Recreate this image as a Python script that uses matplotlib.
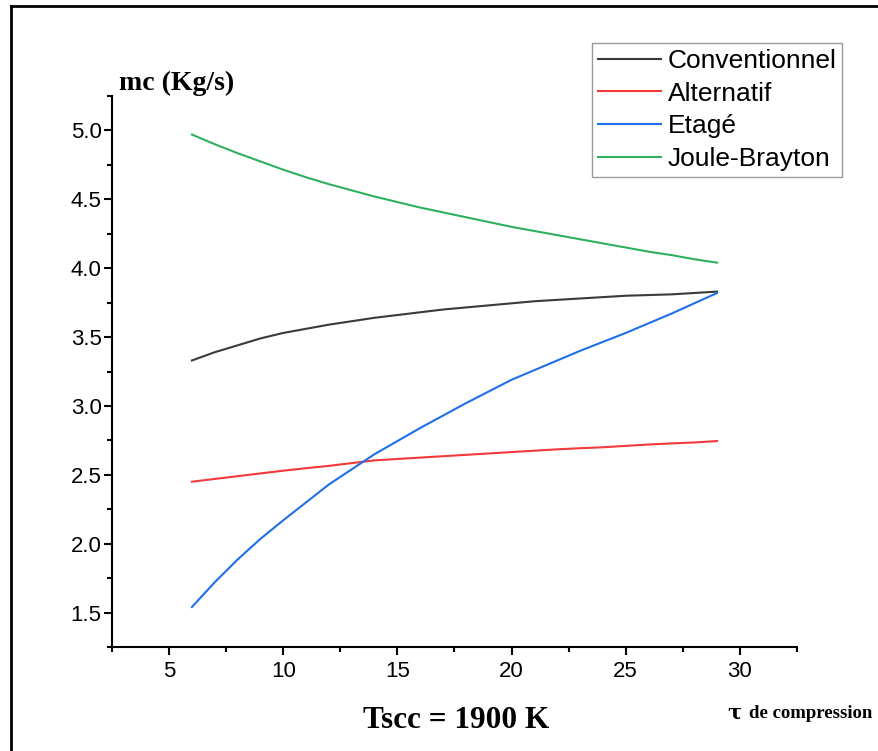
import numpy as np
import matplotlib.pyplot as plt
from matplotlib.lines import Line2D

# Data
tau = [6, 7, 8, 9, 10, 11, 12, 13, 14, 15, 16, 17,
       18, 19, 20, 21, 22, 23, 24, 25, 26, 27, 28, 29]
conventionnel = [3.33, 3.39, 3.44, 3.49, 3.53, 3.56, 3.59, 3.615, 3.64, 3.66, 3.68, 3.70,
                 3.715, 3.73, 3.745, 3.76, 3.77, 3.78, 3.79, 3.80, 3.805, 3.81, 3.82, 3.83]
alternatif = [2.45, 2.47, 2.49, 2.51, 2.53, 2.548, 2.565, 2.585, 2.605, 2.615, 2.625, 2.635,
              2.645, 2.655, 2.665, 2.675, 2.685, 2.693, 2.70, 2.71, 2.72, 2.728, 2.735, 2.745]
etage = [1.54, 1.72, 1.885, 2.035, 2.17, 2.30, 2.43, 2.54, 2.65, 2.745, 2.84, 2.93,
         3.02, 3.105, 3.19, 3.26, 3.33, 3.40, 3.465, 3.53, 3.60, 3.67, 3.745, 3.82]
joule_brayton = [4.97, 4.90, 4.835, 4.775, 4.715, 4.66, 4.61, 4.565, 4.52, 4.48, 4.44, 4.405,
                 4.37, 4.335, 4.30, 4.27, 4.24, 4.21, 4.18, 4.15, 4.12, 4.095, 4.065, 4.04]

labels = ['Conventionnel', 'Alternatif', 'Etagé', 'Joule-Brayton']
colors = ['#3a3a3a', '#f23a3a', '#1f6fe8', '#2fb060']

plt.rcParams['font.family'] = ['Liberation Sans', 'DejaVu Sans']

fig = plt.figure(figsize=(8.79, 7.51), dpi=100)
ax = fig.add_axes([112 / 879, 1 - 647 / 751, 685 / 879, 551 / 751])

for ys, lab, c in zip([conventionnel, alternatif, etage, joule_brayton], labels, colors):
    ax.plot(tau, ys, color=c, lw=1.5, label=lab)

ax.set_xlim(2.5, 32.5)
ax.set_ylim(1.25, 5.25)
ax.set_xticks([5, 10, 15, 20, 25, 30])
ax.set_xticks(np.arange(2.5, 33, 2.5), minor=True)
ax.set_yticks([1.5, 2.0, 2.5, 3.0, 3.5, 4.0, 4.5, 5.0])
ax.set_yticks(np.arange(1.25, 5.3, 0.25), minor=True)
ax.set_yticklabels(['1.5', '2.0', '2.5', '3.0', '3.5', '4.0', '4.5', '5.0'])

ax.spines['top'].set_visible(False)
ax.spines['right'].set_visible(False)
for s in ['left', 'bottom']:
    ax.spines[s].set_linewidth(1.5)
ax.tick_params(which='major', direction='out', length=6, width=1.5, labelsize=16)
ax.tick_params(axis='y', which='major', pad=1.5)
ax.tick_params(axis='x', which='major', pad=4)
ax.tick_params(which='minor', direction='out', length=3.5, width=1.5)

leg = fig.legend(loc='upper left', bbox_to_anchor=(592 / 879, 1 - 43 / 751),
                 bbox_transform=fig.transFigure, fontsize=19, frameon=True,
                 fancybox=False, edgecolor='#808080', handlelength=2.4,
                 handletextpad=0.25, labelspacing=0.33, borderpad=0.22, borderaxespad=0)
leg.get_frame().set_linewidth(1.0)

# axis texts
fig.text(119 / 879, 1 - 83 / 751, 'mc (Kg/s)', family='Liberation Serif', weight='bold',
         fontsize=20, ha='left', va='center')
fig.text(456 / 879, 1 - 720 / 751, 'Tscc = 1900 K', family='Liberation Serif', weight='bold',
         fontsize=22.5, ha='center', va='center')
fig.text(727 / 879, 1 - 712 / 751, 'τ', family='DejaVu Serif', weight='bold',
         fontsize=15, ha='left', va='center')
fig.text(749 / 879, 1 - 713 / 751, 'de compression', family='Liberation Serif', weight='bold',
         fontsize=13.5, ha='left', va='center')

# outer frame (top and left lines)
fig.add_artist(Line2D([11 / 879, 1], [1 - 6 / 751, 1 - 6 / 751], color='black', lw=2,
                      transform=fig.transFigure))
fig.add_artist(Line2D([11 / 879, 11 / 879], [0, 1 - 6 / 751], color='black', lw=2,
                      transform=fig.transFigure))

fig.savefig('out.png', dpi=100)
